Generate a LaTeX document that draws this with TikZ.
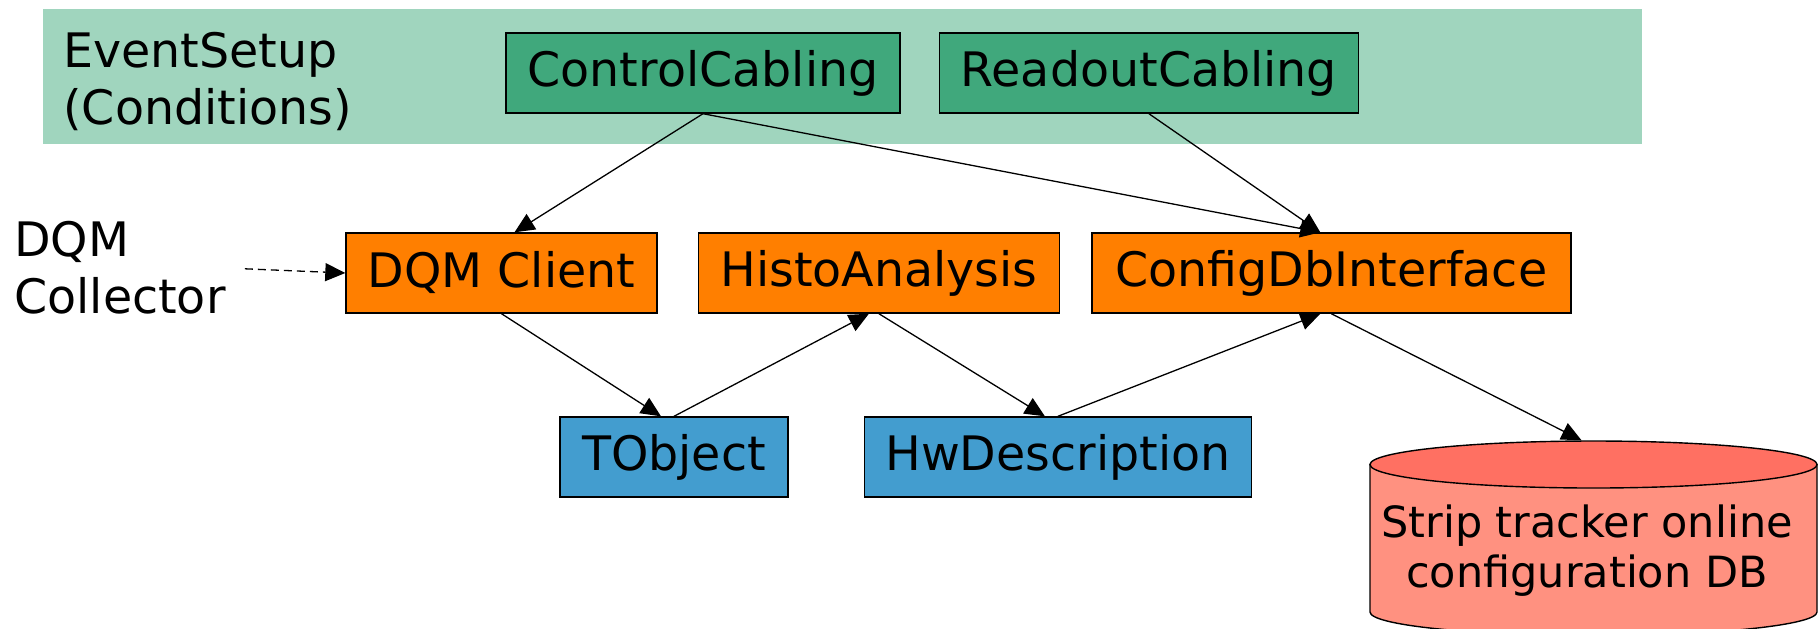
\documentclass[tikz,border=0pt]{standalone}
\usepackage{fontspec}
\setmainfont{DejaVu Sans}
\usetikzlibrary{positioning,shapes.geometric,arrows.meta}

\definecolor{esband}{RGB}{160,213,190}
\definecolor{esgreen}{RGB}{64,168,124}
\definecolor{clientorange}{RGB}{255,127,0}
\definecolor{datablue}{RGB}{67,157,207}
\definecolor{dbtop}{RGB}{255,112,98}
\definecolor{dbbody}{RGB}{255,145,128}

\begin{document}
\begin{tikzpicture}[x=0.5pt,y=-0.5pt,
every node/.style={font=\fontsize{23.75}{28.5}\selectfont},
boxnode/.style={rectangle,draw=black,line width=0.7pt,minimum height=40pt,inner sep=0pt},
esnode/.style={boxnode,fill=esgreen},
clientnode/.style={boxnode,fill=clientorange},
datanode/.style={boxnode,fill=datablue},
plaintext/.style={align=left,inner sep=0pt},
link/.style={-{Triangle[length=10pt,width=9pt]},line width=0.65pt},
]
\useasboundingbox (0,0) rectangle (1818,628);

%Conditions band
\fill[esband] (43,9) rectangle (1642,144);
\node[plaintext,anchor=west] (eventsetup) at (63,81) {EventSetup\\(Conditions)};

%Nodes
\node[esnode, minimum width=197pt]       (ctrl)    at (703,73)  {ControlCabling};
\node[esnode, minimum width=209.5pt]     (readout) [right=19pt of ctrl] {ReadoutCabling};

\node[clientnode, minimum width=155.5pt] (dqm)     at (501.5,273) {DQM Client};
\node[clientnode, minimum width=180.5pt] (histo)   [right=20pt of dqm] {HistoAnalysis};
\node[clientnode, minimum width=239.5pt] (configdb) [right=15.5pt of histo] {ConfigDbInterface};

\node[datanode, minimum width=114pt]     (tobj)    at (674,457) {TObject};
\node[datanode, minimum width=193.5pt]   (hwdesc)  [right=37.5pt of tobj] {HwDescription};

\node[plaintext,anchor=west] (collector) at (14,268) {DQM\\Collector};

%Database cylinder
\filldraw[fill=dbbody, draw=black, line width=0.7pt] (1370,464.5) -- (1370,612)
  arc[start angle=180, end angle=360, x radius=111.75pt, y radius=11.75pt] -- (1817,464.5) -- cycle;
\node[ellipse, draw=black, line width=0.7pt, fill=dbtop, inner sep=0pt,
      minimum width=223.5pt, minimum height=23.5pt] (dbcap) at (1593.5,464.5) {};
\node[align=center, inner sep=0pt, font=\fontsize{21.5}{25}\selectfont] (dbtext) at (1587,551)
      {Strip tracker online\\configuration DB};

%Lines
\draw[link] (ctrl.south) -- ([xshift=6.5pt]dqm.north);
\draw[link] (ctrl.south) -- ([xshift=-5.5pt]configdb.north);
\draw[link] (readout.south) -- ([xshift=-5.5pt]configdb.north);
\draw[link, dash pattern=on 4pt off 2.5pt, shorten <=9.5pt] (collector.east) -- (dqm.west);
\draw[link] (dqm.south) -- ([xshift=-6.5pt]tobj.north);
\draw[link] (tobj.north) -- ([xshift=-5pt]histo.south);
\draw[link] (histo.south) -- ([xshift=-6.5pt]hwdesc.north);
\draw[link] (hwdesc.north) -- ([xshift=-5.5pt]configdb.south);
\draw[link] (configdb.south) -- ([xshift=-6pt]dbcap.north);

\end{tikzpicture}
\end{document}
